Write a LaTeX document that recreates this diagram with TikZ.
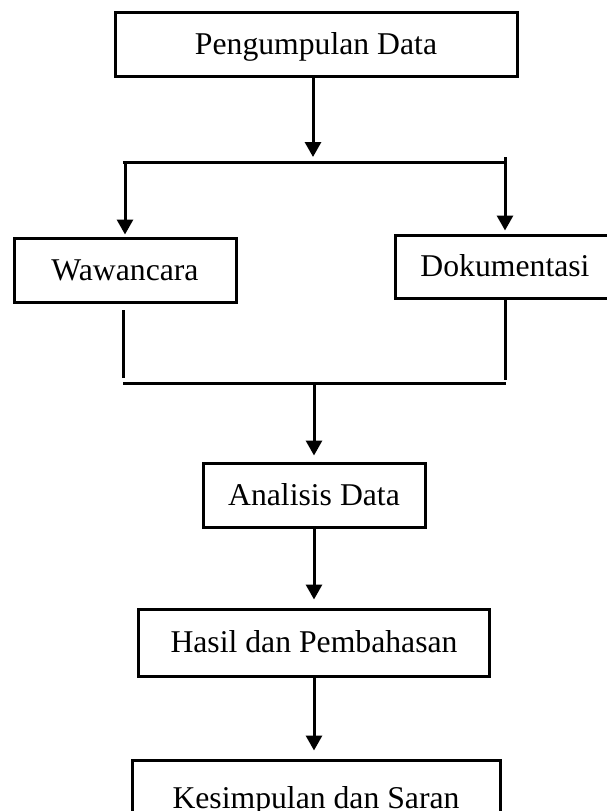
\documentclass[tikz,border=0pt]{standalone}
\usepackage{fontspec}
\setmainfont{Liberation Serif}
\usetikzlibrary{arrows.meta}
\begin{document}
\begin{tikzpicture}[x=1pt,y=-1pt,
  box/.style={draw, line width=3pt, inner sep=0pt, text height=20pt, text depth=0pt,
    font=\fontsize{31.7}{38}\selectfont, anchor=center},
  arr/.style={line width=3pt, -{Triangle[width=16pt,length=15pt]}},
  ln/.style={line width=3pt}]
\useasboundingbox (0,0) rectangle (607,811);
% boxes
\node[box, minimum width=402pt, minimum height=64pt] (pd) at (316,44) {Pengumpulan Data};
\node[box, minimum width=222pt, minimum height=64pt] (ww) at (125,270) {Wawancara};
\node[box, minimum width=220pt, minimum height=63pt] (dk) at (505,266.5) {Dokumentasi};
\node[box, minimum width=222pt, minimum height=64pt] (ad) at (314,495) {Analisis Data};
\node[box, minimum width=351pt, minimum height=67pt] (hp) at (314,642.5) {Hasil dan Pembahasan};
\node[box, minimum width=368pt, minimum height=76pt] (ks) at (316,798) {Kesimpulan dan Saran};
% junction coordinates
\coordinate (t1) at (313,157);
\coordinate (bl) at (123,162);
\coordinate (br) at (506,162);
\coordinate (bt) at (505,157);
\coordinate (al) at (125,162);
\coordinate (wl1) at (123,310);
\coordinate (wl2) at (123,378);
\coordinate (dl2) at (505,380);
\coordinate (cl) at (123,383);
\coordinate (cr) at (506,383);
\coordinate (cm) at (314,383);
% connectors
\draw[arr] ([xshift=-3pt]pd.south) -- (t1);
\draw[ln] (bl) -- (br);
\draw[arr] (al) -- ([yshift=2pt]ww.north);
\draw[arr] (bt) -- ([yshift=3pt]dk.north);
\draw[ln] (wl1) -- (wl2);
\draw[ln] (dk.south) -- (dl2);
\draw[ln] (cl) -- (cr);
\draw[arr] (cm) -- ([yshift=6pt]ad.north);
\draw[arr] (ad.south) -- ([yshift=8pt]hp.north);
\draw[arr] (hp.south) -- ([xshift=-2pt,yshift=8pt]ks.north);
\end{tikzpicture}
\end{document}
